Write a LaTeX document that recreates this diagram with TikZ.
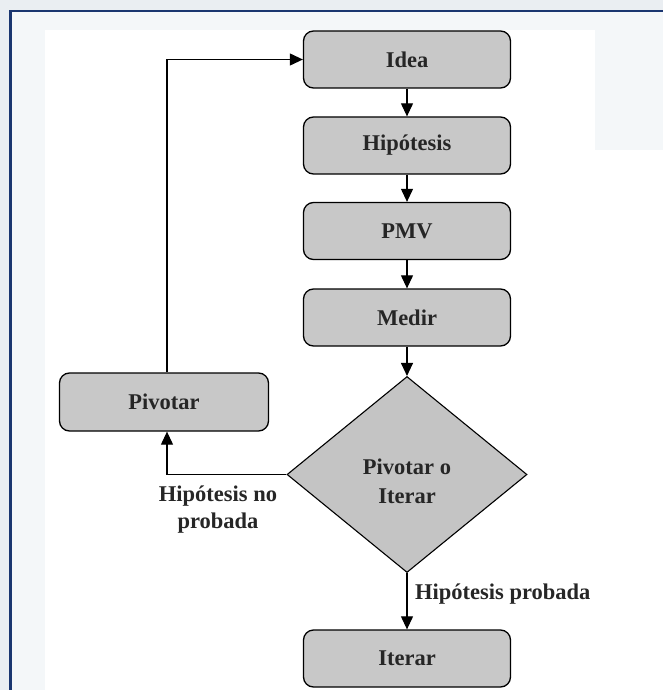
\documentclass[tikz,border=0pt]{standalone}
\usepackage{fontspec}
\setmainfont{Liberation Serif}
\usetikzlibrary{shapes.geometric,arrows.meta}
\definecolor{boxgray}{HTML}{C8C8C8}
\definecolor{diagray}{HTML}{C4C4C4}
\definecolor{framblue}{HTML}{1A3670}
\definecolor{bgpale}{HTML}{EAEEF2}
\definecolor{bginner}{HTML}{F4F7F9}
\tikzset{
  flowbox/.style={draw=black, line width=1.3pt, fill=boxgray, rounded corners=10pt,
    minimum width=207pt, minimum height=57pt, inner sep=0pt,
    font=\fontsize{22.5}{29}\selectfont\bfseries, text=black!85},
  decbox/.style={draw=black, line width=1.1pt, fill=diagray, shape=diamond,
    minimum width=240pt, minimum height=196pt, inner sep=0pt, aspect=1.22},
  lbl/.style={font=\fontsize{22.5}{27}\selectfont\bfseries, text=black!85, inner sep=0pt, align=center},
  conn/.style={line width=1.1pt, -{Triangle[length=13pt,width=12pt]}},
}
\begin{document}
\begin{tikzpicture}[x=1pt,y=-1pt]
\useasboundingbox (0,0) rectangle (663,690);
% background
\fill[bgpale] (0,0) rectangle (663,690);
\fill[bginner] (11,11) rectangle (663,690);
\fill[white] (45,30) rectangle (595,690);
\fill[white] (595,150) rectangle (663,690);
\draw[framblue, line width=2.2pt] (10.5,690) -- (10.5,11) -- (663,11);
% nodes
\node[flowbox] (idea) at (407,59.5) {Idea};
\node[flowbox] (hip) at (407,145.5) {Hipótesis};
\node[flowbox] (pmv) at (407,231) {PMV};
\node[flowbox] (medir) at (407,317.5) {Medir};
\node[decbox] (dec) at (407,474.5) {};
\node[lbl, font=\fontsize{22.5}{29}\selectfont\bfseries] (dectext) at (407,481) {Pivotar o\\Iterar};
\node[flowbox, minimum width=209pt, minimum height=58pt] (piv) at (164,402) {Pivotar};
\node[flowbox] (iter) at (407,658.5) {Iterar};
% connectors
\draw[conn] (idea) -- (hip);
\draw[conn] (hip) -- (pmv);
\draw[conn] (pmv) -- (medir);
\draw[conn] (medir) -- (dec.north);
\draw[conn] (dec.south) -- (iter);
\draw[conn] (dec.west) -| ([xshift=3pt]piv.south);
\draw[conn] ([xshift=3pt]piv.north) |- (idea.west);
% labels
\node[lbl] (lno) at (218,510) {Hipótesis no\\probada};
\node[lbl, anchor=west] (lsi) at (415,594) {Hipótesis probada};
\end{tikzpicture}
\end{document}
